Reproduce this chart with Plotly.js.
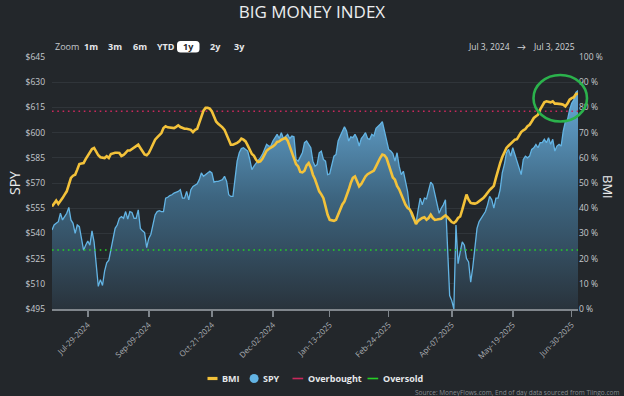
<!DOCTYPE html>
<html>
<head>
<meta charset="utf-8">
<script src="https://cdn.plot.ly/plotly-3.0.1.min.js"></script>
<style>
html,body{margin:0;padding:0;background:#23272b;}
#chart{width:624px;height:396px;}
</style>
</head>
<body>
<div id="chart"></div>
<script>
// ---- data ----
const marketHolidays = ['2024-07-04','2024-09-02','2024-11-28','2024-12-25','2025-01-01','2025-01-09',
  '2025-01-20','2025-02-17','2025-04-18','2025-05-26','2025-06-19'];
const startDate = '2024-07-03';
const endDate = '2025-07-03';

const tickDates = ['2024-07-29','2024-09-09','2024-10-21','2024-12-02','2025-01-13','2025-02-24','2025-04-07','2025-05-19','2025-06-30'];
const tickLabels = ['Jul-29-2024','Sep-09-2024','Oct-21-2024','Dec-02-2024','Jan-13-2025','Feb-24-2025','Apr-07-2025','May-19-2025','Jun-30-2025'];

const spyTicks = [495,510,525,540,555,570,585,600,615,630,645];
const spyTickLabels = ['$495','$510','$525','$540','$555','$570','$585','$600','$615','$630','$645'];
const bmiTicks = [0,10,20,30,40,50,60,70,80,90,100];
const bmiTickLabels = ['0 %','10 %','20 %','30 %','40 %','50 %','60 %','70 %','80 %','90 %','100 %'];

// SPY close (one value per trading day)
const spy = [
  542,545,546,547,552,548,550,552,555.5,548,
  546,540,545,544,537,530,533,535.5,533,541.5,
  535,523,508.5,512.5,509,517.5,522.5,524,530,535,
  543,545,549,550,549,553,548.5,553,552.5,549,
  549,554,543,541.5,540.5,531.5,537,539.5,546,551,
  553,553.5,553,553,561,561.5,562.5,563,564,564.5,
  565,566,561,561,565,560,566,568,569,569.5,
  572,576,574,575,576,577,576,570.5,571,571,
  571.5,572,574,571,563,562,562,572,583,588,
  590.5,591,590,589,584,578,580,582,583.5,585,
  587,590,593,592,592,595,597,599,596.5,600,
  596.5,597.5,599,596.5,598,597.5,584,583,586,588,
  594,595,593,591,583,580,581,588,589,584,
  583,575,575.5,581,586,587,595,598,601,603.5,
  601,595,597.5,597,599,596.5,592,596.5,598,600,
  596.5,596,599,598,602.5,603.5,605,606.5,601,594,
  590,589,587.5,583,588,580,575,577,571,565,
  554,550,548,546,554,561,557,561,560.5,565,
  570.5,569,563,557,552,555,557,560,530,503,
  500,495,545,522,529,535,533,525,523,511,
  520,532,543,547,549,551,553,557,562,560,
  555,561,561,566,576,581,588,590,586,591,
  587,584,579,575,584,586,585,586,590,591,
  593,591,594,594,596,594,597,593,596,589,
  592,593,592,601,606.5,607.5,613.5,617.5,619.5,624,
  625
];

// Big Money Index (%)
const bmi = [
  40.7,42.1,43,41.7,42.7,44,45.4,46.7,49.3,52,
  52.9,53.3,55.3,57.5,57.7,57.9,59.5,61,61.9,63.5,
  63.9,62.5,61,60.2,60,59.9,60.6,59.9,61.5,61.9,
  62,62,61.9,60.7,61.1,62,62.9,62.9,63.5,64.3,
  64.8,65.2,63.9,62.3,61.3,61,61.9,63.6,65.5,67.2,
  68.1,69,69.8,71.8,72.5,72.1,72,71.8,71.8,72.3,
  72.9,72.2,71.8,71.5,71.5,71.3,71.1,70.2,71.1,71.5,
  73.8,76.4,78.7,79.8,79.8,79.5,78.4,76.4,74.4,73.5,
  72.9,72.1,71.1,69.2,67.2,65.2,65.2,65.5,65.9,66.5,
  67.6,67.2,66.5,64.9,62.8,61.5,60.8,59.2,58.3,58.6,
  59.6,61.2,62.8,63.5,63.9,64.5,65.2,66.3,66.5,67.2,
  67.5,67.9,66.8,64.5,61.9,59.2,57.5,56.6,54.4,54.2,
  54.9,57,57.9,56.2,53.3,51.5,49.3,46.7,45.5,44,
  40.7,37.4,35.4,35.2,35,35.4,37.4,40.1,41.5,42.7,
  44.7,47.3,50,52,52.6,50.4,48.7,49.6,51.3,52.6,
  53.5,54,54.6,54.9,56.6,58.6,60,61.3,61,59.9,
  57.3,54.6,52.2,51.3,48.8,47.5,45.4,43,41.4,40.1,
  39.5,38.1,35.4,33.7,35,35.6,36.1,36.4,35.4,36.1,
  37.4,36.1,35.4,35.5,35.7,35.8,36.5,37.1,36.4,35.2,
  34.5,34.1,34.8,36.1,36.7,39.4,42,45.4,43.4,42.1,
  41.9,41.8,42.1,42.7,43.4,44,45,46.2,47.2,48,
  48.9,52,55.3,57.9,60.3,62.1,63.9,64.8,65.5,66.5,
  67.2,67.4,68.8,70.2,70.9,71.4,72.5,73.1,74.4,75.8,
  76.5,77.1,79.1,80.4,82,82.4,82.2,82,82.4,81.5,
  81.5,81.5,81.3,81.1,80.4,81.5,83.1,83.7,84,85.3,
  85.5
];

const overboughtLevel = 78.5;
const oversoldLevel = 23.4;

// ---- trading calendar ----
function tradingDays(start, end, hol) {
  const out = [];
  const set = new Set(hol);
  let d = new Date(start + 'T00:00:00Z');
  const e = new Date(end + 'T00:00:00Z');
  while (d <= e) {
    const dow = d.getUTCDay();
    const s = d.toISOString().slice(0, 10);
    if (dow !== 0 && dow !== 6 && !set.has(s)) out.push(s);
    d = new Date(d.getTime() + 86400000);
  }
  return out;
}
const dates = tradingDays(startDate, endDate, marketHolidays);
const n = Math.min(dates.length, spy.length, bmi.length);
const xs = dates.slice(0, n);

// ---- page geometry helpers (decorations only) ----
const M = {l: 52, r: 46, t: 57, b: 87};
const PW = 624 - M.l - M.r, PH = 396 - M.t - M.b;
const px = x => (x - M.l) / PW;
const py = y => (396 - M.b - y) / PH;

const FONT = 'Open Sans, Lato, sans-serif';
const SPY_COLOR = '#63b4e4';
const BMI_COLOR = '#f3c23a';
const OB_COLOR = '#c8285c';
const OS_COLOR = '#26cf26';

const traces = [
  {
    x: xs, y: spy.slice(0, n), name: 'SPY', type: 'scatter', mode: 'lines', yaxis: 'y',
    line: {color: SPY_COLOR, width: 1.3},
    fill: 'tozeroy',
    fillgradient: {type: 'vertical', start: 495, stop: 628,
      colorscale: [[0, '#29333c'], [0.5, '#3d6580'], [1, '#69addb']]},
    hoverinfo: 'skip'
  },
  {
    x: [xs[0], xs[n - 1]], y: [oversoldLevel, oversoldLevel], name: 'Oversold', type: 'scatter',
    mode: 'lines', yaxis: 'y2', line: {color: OS_COLOR, width: 1.6, dash: '1.6px,3.7px'}
  },
  {
    x: [xs[0], xs[n - 1]], y: [overboughtLevel, overboughtLevel], name: 'Overbought', type: 'scatter',
    mode: 'lines', yaxis: 'y2', line: {color: OB_COLOR, width: 1.6, dash: '1.6px,3.7px'}
  },
  {
    x: xs, y: bmi.slice(0, n), name: 'BMI', type: 'scatter', mode: 'lines', yaxis: 'y2',
    line: {color: BMI_COLOR, width: 2.6}
  }
];

function roundRect(x0, y0, x1, y1, r) {
  const P = (x, y) => px(x) + ',' + py(y);
  return 'M' + P(x0 + r, y0) + ' L' + P(x1 - r, y0) + ' Q' + P(x1, y0) + ' ' + P(x1, y0 + r) +
    ' L' + P(x1, y1 - r) + ' Q' + P(x1, y1) + ' ' + P(x1 - r, y1) +
    ' L' + P(x0 + r, y1) + ' Q' + P(x0, y1) + ' ' + P(x0, y1 - r) +
    ' L' + P(x0, y0 + r) + ' Q' + P(x0, y0) + ' ' + P(x0 + r, y0) + ' Z';
}

const LEG_Y = 378.5;
const shapes = [
  {type: 'path', xref: 'paper', yref: 'paper', path: roundRect(177, 41, 199.5, 52.5, 3.5),
   fillcolor: '#ffffff', line: {width: 0}, layer: 'above'},
  {type: 'circle', xref: 'paper', yref: 'paper', x0: px(533.5), x1: px(587), y0: py(121.5), y1: py(75),
   line: {color: '#2bb24c', width: 2.6}, layer: 'above'},
  {type: 'line', xref: 'paper', yref: 'paper', x0: px(207.5), x1: px(217.5), y0: py(LEG_Y), y1: py(LEG_Y),
   line: {color: BMI_COLOR, width: 3.2}},
  {type: 'circle', xref: 'paper', yref: 'paper', x0: px(249.6), x1: px(258.6), y0: py(LEG_Y - 4.5), y1: py(LEG_Y + 4.5),
   fillcolor: SPY_COLOR, line: {width: 0}},
  {type: 'line', xref: 'paper', yref: 'paper', x0: px(292.5), x1: px(303.2), y0: py(LEG_Y), y1: py(LEG_Y),
   line: {color: OB_COLOR, width: 1.6}},
  {type: 'line', xref: 'paper', yref: 'paper', x0: px(367.5), x1: px(378.2), y0: py(LEG_Y), y1: py(LEG_Y),
   line: {color: OS_COLOR, width: 1.6}}
];

function ann(text, x, y, opts) {
  return Object.assign({text: text, xref: 'paper', yref: 'paper', x: px(x), y: py(y),
    xanchor: 'left', yanchor: 'middle', showarrow: false,
    font: {family: FONT, size: 9, color: '#e6e8ea'}}, opts || {});
}

const annotations = [
  ann('Zoom', 52.5, 46.5, {font: {family: FONT, size: 9, color: '#c4c8cc'}}),
  ann('<b>1m</b>', 81.5, 46.5),
  ann('<b>3m</b>', 106, 46.5),
  ann('<b>6m</b>', 131, 46.5),
  ann('<b>YTD</b>', 154.5, 46.5),
  ann('<b>1y</b>', 188.2, 46.8, {xanchor: 'center', font: {family: FONT, size: 9, color: '#23272b'}}),
  ann('<b>2y</b>', 207.5, 46.5),
  ann('<b>3y</b>', 231.5, 46.5),
  ann('Jul 3, 2024', 512, 46.5, {xanchor: 'right', font: {family: FONT, size: 8.5, color: '#d2d5d8'}}),
  ann('→', 521.5, 46.5, {xanchor: 'center', font: {family: FONT, size: 9, color: '#d2d5d8'}}),
  ann('Jul 3, 2025', 531, 46.5, {font: {family: FONT, size: 8.5, color: '#d2d5d8'}}),
  ann('SPY', 14, 183, {xanchor: 'center', textangle: -90, font: {family: FONT, size: 14, color: '#e8eaec'}}),
  ann('BMI', 608, 187, {xanchor: 'center', textangle: 90, font: {family: FONT, size: 13, color: '#e8eaec'}}),
  ann('<b>BMI</b>', 219.5, LEG_Y),
  ann('<b>SPY</b>', 261, LEG_Y),
  ann('<b>Overbought</b>', 305.5, LEG_Y),
  ann('<b>Oversold</b>', 380.5, LEG_Y),
  ann('Source: MoneyFlows.com, End of day data sourced from Tiingo.com', 621, 392,
    {xanchor: 'right', font: {family: FONT, size: 6.5, color: '#868b90'}})
];

const layout = {
  width: 624, height: 396,
  paper_bgcolor: '#23272b', plot_bgcolor: '#23272b',
  margin: M,
  showlegend: false,
  font: {family: FONT, color: '#c6cacf'},
  title: {text: 'BIG MONEY INDEX', x: 0.5, xref: 'container', xanchor: 'center',
    y: 1 - 12.5 / 396, yref: 'container', yanchor: 'middle',
    font: {family: FONT, size: 17, color: '#eceef0'}},
  xaxis: {
    type: 'date', range: [xs[0], xs[n - 1]],
    rangebreaks: [{bounds: ['sat', 'mon']}, {values: marketHolidays}],
    tickmode: 'array', tickvals: tickDates, ticktext: tickLabels, tickangle: -45,
    tickfont: {family: FONT, size: 8, color: '#a9adb2'},
    ticks: 'outside', ticklen: 6, tickwidth: 1.5, tickcolor: '#80868c',
    showline: true, linecolor: '#80868c', linewidth: 2,
    showgrid: false, zeroline: false, fixedrange: true
  },
  yaxis: {
    range: [495, 645], tickmode: 'array', tickvals: spyTicks, ticktext: spyTickLabels,
    tickfont: {family: FONT, size: 8.5, color: '#c6cacf'},
    showgrid: true, gridcolor: '#30353a', gridwidth: 1,
    zeroline: false, showline: false, ticks: '', ticklabelstandoff: 6, fixedrange: true
  },
  yaxis2: {
    overlaying: 'y', side: 'right', range: [0, 100], tickmode: 'array', tickvals: bmiTicks,
    ticktext: bmiTickLabels, tickfont: {family: FONT, size: 8.5, color: '#c6cacf'},
    showgrid: false, zeroline: false, showline: false, ticks: '', fixedrange: true
  },
  shapes: shapes,
  annotations: annotations
};

Plotly.newPlot('chart', traces, layout, {displayModeBar: false, staticPlot: true});
</script>
</body>
</html>
